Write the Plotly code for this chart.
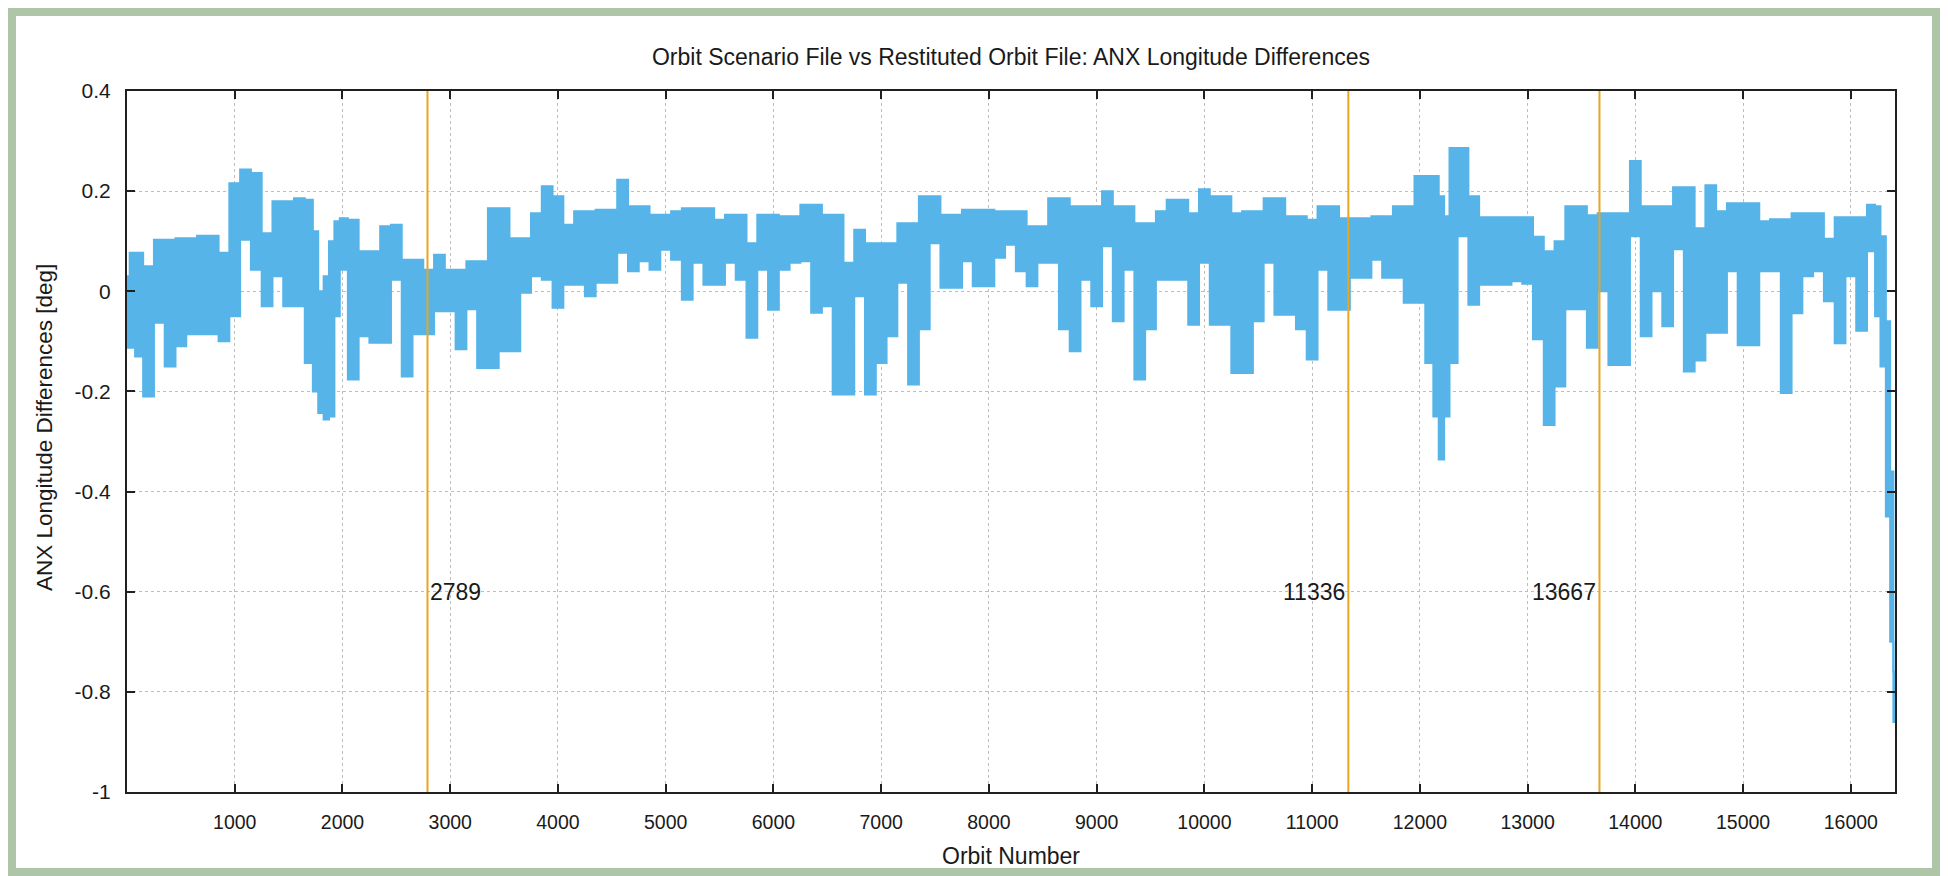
import plotly.graph_objects as go

# ---------------- data ----------------
orbit = [0, 50, 100, 200, 300, 400, 500, 600, 700, 800, 900, 1000, 1100, 1200, 1300, 1400,
         1500, 1600, 1700, 1750, 1800, 1850, 1900, 1950, 2000, 2100, 2200, 2300, 2400, 2500,
         2600, 2700, 2800,
         2900, 3000, 3100, 3200, 3300, 3400, 3500, 3600, 3700, 3800, 3900, 4000, 4100, 4200,
         4300, 4400, 4500, 4600, 4700, 4800, 4900, 5000, 5100, 5200, 5300, 5400, 5500, 5600,
         5700, 5800, 5900, 6000, 6100, 6200, 6300, 6400, 6500, 6600, 6700, 6800, 6900, 7000,
         7100, 7200, 7300, 7400, 7500, 7600, 7700, 7800, 7900, 8000, 8100, 8200, 8300, 8400,
         8500, 8600, 8700, 8800, 8900, 9000, 9100, 9200, 9300, 9400, 9500, 9600, 9700, 9800,
         9900, 10000, 10100, 10200, 10300, 10400, 10500, 10600, 10700, 10800, 10900, 11000,
         11100, 11200, 11300, 11400, 11500, 11600, 11700, 11800, 11900, 12000, 12100, 12150,
         12200, 12250, 12300, 12400, 12500, 12600, 12700, 12800, 12900, 13000, 13100, 13200,
         13300, 13400,
         13500, 13600, 13700, 13800, 13900, 14000, 14100, 14200, 14300, 14400, 14500, 14600,
         14700, 14800, 14900, 15000, 15100, 15200, 15300, 15400, 15500, 15600, 15700, 15800,
         15900, 16000, 16100, 16200, 16250, 16300, 16350, 16380, 16410]

diff_upper = [0.03, 0.077, 0.077, 0.05, 0.103, 0.103, 0.106, 0.106, 0.111, 0.111, 0.077, 0.216,
              0.243, 0.236, 0.116, 0.18, 0.18, 0.186, 0.183, 0.12, 0.0, 0.03, 0.10, 0.14,
              0.146, 0.143, 0.08,
              0.08, 0.13, 0.133, 0.063, 0.063, 0.043, 0.073, 0.043, 0.043, 0.06, 0.06, 0.166,
              0.166, 0.106, 0.106, 0.156, 0.21, 0.19, 0.133, 0.16, 0.16, 0.163, 0.163, 0.223,
              0.17, 0.17, 0.153, 0.153, 0.16, 0.166, 0.166, 0.166, 0.143, 0.153, 0.153, 0.096,
              0.153, 0.153, 0.15, 0.15, 0.173, 0.173, 0.153, 0.153, 0.057, 0.123, 0.096, 0.096,
              0.096, 0.136, 0.136, 0.19, 0.19, 0.153, 0.153, 0.163, 0.163, 0.163, 0.16, 0.16,
              0.16, 0.13, 0.13, 0.186, 0.186, 0.17, 0.17, 0.17, 0.2, 0.17, 0.17, 0.136, 0.136,
              0.16, 0.183, 0.183, 0.156, 0.204, 0.19, 0.19, 0.156, 0.16, 0.16, 0.186, 0.186,
              0.15, 0.15, 0.143, 0.17, 0.17, 0.146, 0.146, 0.146, 0.15, 0.15, 0.17, 0.17, 0.23,
              0.23, 0.23, 0.19, 0.15, 0.286, 0.286, 0.19, 0.148, 0.148, 0.148, 0.148, 0.148,
              0.109, 0.08,
              0.10, 0.17, 0.17, 0.152, 0.156, 0.156, 0.156, 0.26, 0.17, 0.17, 0.17, 0.208,
              0.208, 0.126, 0.212, 0.16, 0.176, 0.176, 0.176, 0.14, 0.144, 0.144, 0.156, 0.156,
              0.156, 0.105, 0.148, 0.148, 0.148, 0.173, 0.17, 0.11, -0.06, -0.36, -0.76]

diff_lower = [-0.113, -0.113, -0.13, -0.21, -0.063, -0.15, -0.11, -0.086, -0.086, -0.086, -0.10,
              -0.05, 0.103, 0.043, -0.03, 0.03, -0.03, -0.03, -0.143, -0.2, -0.243, -0.256,
              -0.25, -0.05, 0.043,
              -0.176, -0.09, -0.103, -0.103, 0.023, -0.17, -0.086, -0.086, -0.04, -0.04,
              -0.116, -0.036, -0.153, -0.153, -0.12, -0.12, -0.003, 0.03, 0.023, -0.033, 0.013,
              0.013, -0.01, 0.017, 0.017, 0.077, 0.04, 0.06, 0.043, 0.083, 0.063, -0.017, 0.057,
              0.013, 0.013, 0.057, 0.023, -0.093, 0.043, -0.037, 0.043, 0.057, 0.06, -0.043,
              -0.03, -0.206, -0.206, -0.01, -0.206, -0.143, -0.09, 0.017, -0.186, -0.076, 0.096,
              0.007, 0.007, 0.06, 0.01, 0.01, 0.067, 0.093, 0.04, 0.01, 0.057, 0.057, -0.076,
              -0.12, 0.023, -0.03, 0.09, -0.06, 0.043, -0.176, -0.076, 0.023, 0.023, 0.023,
              -0.067, 0.057, -0.067, -0.067, -0.163, -0.163, -0.06, 0.057, -0.047, -0.047,
              -0.076, -0.136, 0.043, -0.037, -0.037, 0.027, 0.027, 0.063, 0.027, 0.027, -0.023,
              -0.023, -0.143, -0.25, -0.336, -0.25, -0.143, 0.11, -0.027, 0.013, 0.013, 0.013,
              0.02, 0.015,
              -0.096, -0.267, -0.19, -0.036, -0.036, -0.113, 0.0, -0.147, -0.147, 0.11, -0.09,
              0.0, -0.07, 0.084, -0.16, -0.138, -0.083, -0.083, 0.04, -0.108, -0.108, 0.04, 0.04,
              -0.203, -0.044, 0.03, 0.04, -0.02, -0.104, 0.03, -0.079, 0.08, -0.05, -0.15,
              -0.45, -0.7, -0.86]

event_orbits = [2789, 11336, 13667]
event_labels = ["2789", "11336", "13667"]
event_label_side = ["left", "right", "right"]
event_label_y = -0.6

x_tickvals = [1000, 2000, 3000, 4000, 5000, 6000, 7000, 8000, 9000, 10000, 11000, 12000,
              13000, 14000, 15000, 16000]
x_ticktext = [str(v) for v in x_tickvals]
y_tickvals = [-1, -0.8, -0.6, -0.4, -0.2, 0, 0.2, 0.4]
y_ticktext = ["-1", "-0.8", "-0.6", "-0.4", "-0.2", "0", "0.2", "0.4"]

title_text = "Orbit Scenario File vs Restituted Orbit File: ANX Longitude Differences"
x_title = "Orbit Number"
y_title = "ANX Longitude Differences [deg]"

# ---------------- styling ----------------
BLUE = "#56b4e9"
ORANGE = "#eaa520"
GREEN = "#aec5a8"
FONT = "Liberation Sans, Arial, Helvetica, sans-serif"
TXT = "#1a1a1a"

OFF = 8                      # page body margin: figure is drawn at (8, 8) on screen
W, H = 1948 - OFF, 876 - OFF
# plot area on screen: x 127..1895, y 91..792
ML, MT = 127 - OFF, 91 - OFF
MR, MB = W - (1895 - OFF), H - (792 - OFF)
PW, PH = W - ML - MR, H - MT - MB


def px(sx):
    return (sx - OFF - ML) / PW


def py(sy):
    return (H - MB - (sy - OFF)) / PH


fig = go.Figure()

fig.add_trace(go.Scatter(x=orbit, y=diff_upper, mode="lines", line_shape="hvh",
                         line=dict(color=BLUE, width=2), hoverinfo="skip", showlegend=False))
fig.add_trace(go.Scatter(x=orbit, y=diff_lower, mode="lines", line_shape="hvh",
                         fill="tonexty", fillcolor=BLUE, line=dict(color=BLUE, width=2),
                         hoverinfo="skip", showlegend=False))

for xo, lab, side in zip(event_orbits, event_labels, event_label_side):
    fig.add_trace(go.Scatter(x=[xo, xo], y=[y_tickvals[0], y_tickvals[-1]], mode="lines",
                             line=dict(color=ORANGE, width=2), hoverinfo="skip",
                             showlegend=False))
    fig.add_annotation(x=xo, y=event_label_y, xref="x", yref="y", text=lab,
                       showarrow=False, xanchor=side, yanchor="middle",
                       xshift=1 if side == "left" else -1,
                       font=dict(family=FONT, size=23, color=TXT))

# frame: green border with white inner panel
fig.add_shape(type="rect", xref="paper", yref="paper",
              x0=px(16), x1=px(1932), y0=py(868), y1=py(16),
              fillcolor="white", line=dict(width=0), layer="below")

fig.add_annotation(x=px(1011), y=py(856), xref="paper", yref="paper", text=x_title,
                   showarrow=False, xanchor="center", yanchor="middle",
                   font=dict(family=FONT, size=23, color=TXT))
fig.add_annotation(x=px(44), y=py(428), xref="paper", yref="paper", text=y_title,
                   showarrow=False, xanchor="center", yanchor="middle", textangle=-90,
                   font=dict(family=FONT, size=22.5, color=TXT))

axis_common = dict(showline=True, linecolor="#202020", linewidth=2, mirror="allticks",
                   ticks="inside", ticklen=8, tickwidth=1.5, tickcolor="#202020",
                   showgrid=True, gridcolor="#bdbdbd", gridwidth=1, griddash="dot",
                   zeroline=False)

fig.update_xaxes(range=[0, 16410], tickmode="array", tickvals=x_tickvals,
                 ticktext=x_ticktext, ticklabelstandoff=12,
                 tickfont=dict(family=FONT, size=19.5, color=TXT), **axis_common)
fig.update_yaxes(range=[-1, 0.4], tickmode="array", tickvals=y_tickvals,
                 ticktext=y_ticktext, ticklabelstandoff=10,
                 tickfont=dict(family=FONT, size=21, color=TXT), **axis_common)

fig.update_layout(
    width=W, height=H,
    margin=dict(l=ML, r=MR, t=MT, b=MB, pad=0),
    paper_bgcolor=GREEN, plot_bgcolor="white",
    title=dict(text=title_text, x=px(1011), xref="paper", xanchor="center",
               y=1 - (57 - OFF) / H, yref="container", yanchor="middle",
               font=dict(family=FONT, size=23, color=TXT)),
    showlegend=False,
)

fig.write_html("out.html")
